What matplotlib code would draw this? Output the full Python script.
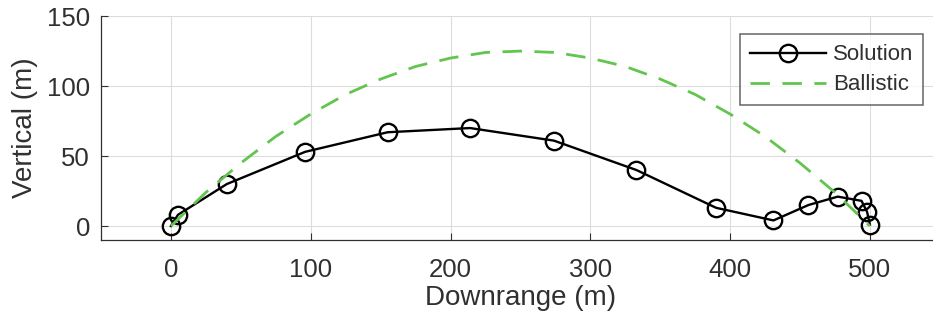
import matplotlib
matplotlib.use("Agg")

import matplotlib.pyplot as plt

# ── Data ─────────────────────────────────────────────────────────────────────
sol_x = [0, 5, 40, 96, 155, 214, 274, 333, 390, 431, 456, 477, 494, 498, 500]
sol_y = [0, 8, 30, 53, 67, 70, 61, 40, 13, 4, 15, 21, 18, 10, 1]

bal_x = [0, 25, 50, 75, 100, 125, 150, 175, 200, 225, 250,
         275, 300, 325, 350, 375, 400, 425, 450, 475, 500]
bal_y = [0, 24, 45, 64, 80, 94, 105, 114, 120, 124, 125,
         124, 120, 114, 105, 94, 80, 64, 45, 24, 0]

x_ticks = [0, 100, 200, 300, 400, 500]
y_ticks = [0, 50, 100, 150]

plt.rcParams["font.family"] = ["Liberation Sans", "DejaVu Sans"]
TXT = "#303030"

fig = plt.figure(figsize=(9.33, 3.25), dpi=100)
ax = fig.add_axes([0.1083, 0.2615, 0.899, 0.689])

ax.plot(sol_x, sol_y, color="black", lw=1.7, marker="o", ms=12.5,
        mfc="none", mec="black", mew=1.7, label="Solution")
ax.plot(bal_x, bal_y, color="#63c44f", lw=2.0, ls=(0, (7, 4.5)),
        label="Ballistic")

ax.set_xlim(-50, 550)
ax.set_ylim(-10, 150)
ax.set_xticks(x_ticks)
ax.set_yticks(y_ticks)
ax.tick_params(direction="in", length=5, width=0.8, colors=TXT,
               labelsize=18.5, pad=13)
ax.tick_params(axis="y", pad=8)
ax.grid(True, color="#dcdcdc", lw=0.8)
ax.set_axisbelow(True)

for side in ("top", "right"):
    ax.spines[side].set_visible(False)
for side in ("left", "bottom"):
    ax.spines[side].set_color(TXT)
    ax.spines[side].set_linewidth(0.9)

ax.set_xlabel("Downrange (m)", fontsize=20, color=TXT, labelpad=2)
ax.set_ylabel("Vertical (m)", fontsize=20, color=TXT, labelpad=6)

leg = ax.legend(loc="upper right", bbox_to_anchor=(0.98, 0.918),
                fontsize=16, frameon=True, fancybox=False,
                handlelength=3.4, borderpad=0.45, labelspacing=0.4,
                handletextpad=0.3, borderaxespad=0)
leg.get_frame().set_edgecolor("#404040")
leg.get_frame().set_linewidth(1.1)
for t in leg.get_texts():
    t.set_color(TXT)

plt.savefig("out.png", dpi=100)
plt.close(fig)
